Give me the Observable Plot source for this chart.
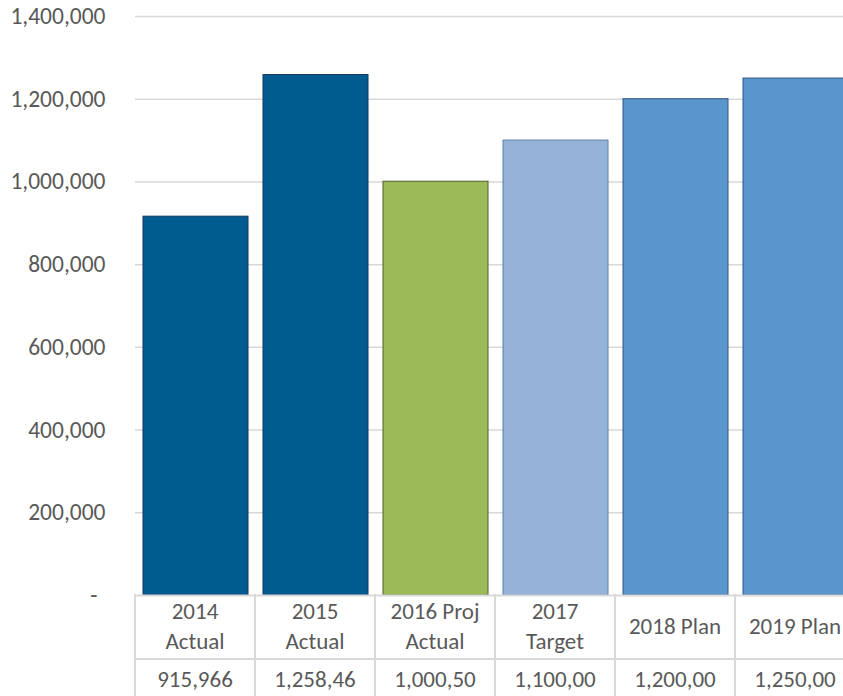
<!DOCTYPE html>
<html>
<head>
<meta charset="utf-8">
<script src="https://cdn.jsdelivr.net/npm/d3@7"></script>
<script src="https://cdn.jsdelivr.net/npm/@observablehq/plot@0.6"></script>
<style>
  html, body { margin: 0; padding: 0; background: #fff; overflow: hidden; }
  #wrap { position: relative; width: 843px; height: 696px; overflow: hidden; }
  #wrap svg { max-width: none !important; display: block; }
  #tbl { position: absolute; left: 134px; top: 594px; border-collapse: collapse; table-layout: fixed; width: 722px;
         font-family: Carlito, Lato, "Open Sans", sans-serif; font-size: 23px; color: #595959; }
  #tbl td { border: 2px solid #d9d9d9; text-align: center; padding: 0; white-space: nowrap; overflow: hidden; }
  #tbl tr.h td { height: 64px; line-height: 30px; border-top: none; }
  #tbl tr.v td { height: 40px; line-height: 38px; vertical-align: top; }
</style>
</head>
<body>
<div id="wrap"></div>
<script>
const categories = ["2014 Actual", "2015 Actual", "2016 Proj Actual", "2017 Target", "2018 Plan", "2019 Plan"];
const labelLines = [["2014", "Actual"], ["2015", "Actual"], ["2016 Proj", "Actual"], ["2017", "Target"], ["2018 Plan"], ["2019 Plan"]];
const values = [915966, 1258460, 1000500, 1100000, 1200000, 1250000];
const valueLabels = ["915,966", "1,258,46", "1,000,50", "1,100,00", "1,200,00", "1,250,00"];
const fills = ["#005B8F", "#005B8F", "#9BBB59", "#95B3D9", "#5A95CC", "#5A95CC"];
const strokes = ["#17375E", "#17375E", "#4F6228", "#5F7FA8", "#2F5785", "#2F5785"];
const yTicks = [200000, 400000, 600000, 800000, 1000000, 1200000, 1400000];

const data = categories.map((c, i) => ({cat: c, value: values[i], fill: fills[i], stroke: strokes[i]}));
const font = 'Carlito, Lato, "Open Sans", sans-serif';

const chart = Plot.plot({
  width: 880,
  height: 597,
  marginLeft: 135,
  marginRight: 25,
  marginTop: 16,
  marginBottom: 2,
  style: {fontFamily: font, fontSize: "23.5px", color: "#595959", background: "#fff", overflow: "visible", maxWidth: "none"},
  x: {domain: categories, paddingInner: 0.125, paddingOuter: 0.0625, axis: null},
  y: {domain: [0, 1400000]},
  color: {type: "identity"},
  marks: [
    Plot.gridY(yTicks, {stroke: "#d9d9d9", strokeOpacity: 1, strokeWidth: 1.5}),
    Plot.barY(data, {x: "cat", y: "value", fill: "fill", stroke: "stroke", strokeWidth: 1}),
    Plot.ruleY([0], {stroke: "#d9d9d9", strokeWidth: 2}),
    Plot.axisY(yTicks, {tickSize: 0, tickPadding: 30, tickFormat: d3.format(","), label: null, fontSize: 23.5}),
    Plot.axisY([0], {tickSize: 0, tickPadding: 38, tickFormat: () => "-", label: null, fontSize: 23.5})
  ]
});

const wrap = document.getElementById("wrap");
wrap.appendChild(chart);

const table = document.createElement("table");
table.id = "tbl";
const hr = table.insertRow();
hr.className = "h";
labelLines.forEach(lines => {
  const td = hr.insertCell();
  td.innerHTML = lines.join("<br>");
});
const vr = table.insertRow();
vr.className = "v";
valueLabels.forEach(v => {
  const td = vr.insertCell();
  td.textContent = v;
});
wrap.appendChild(table);
</script>
</body>
</html>
